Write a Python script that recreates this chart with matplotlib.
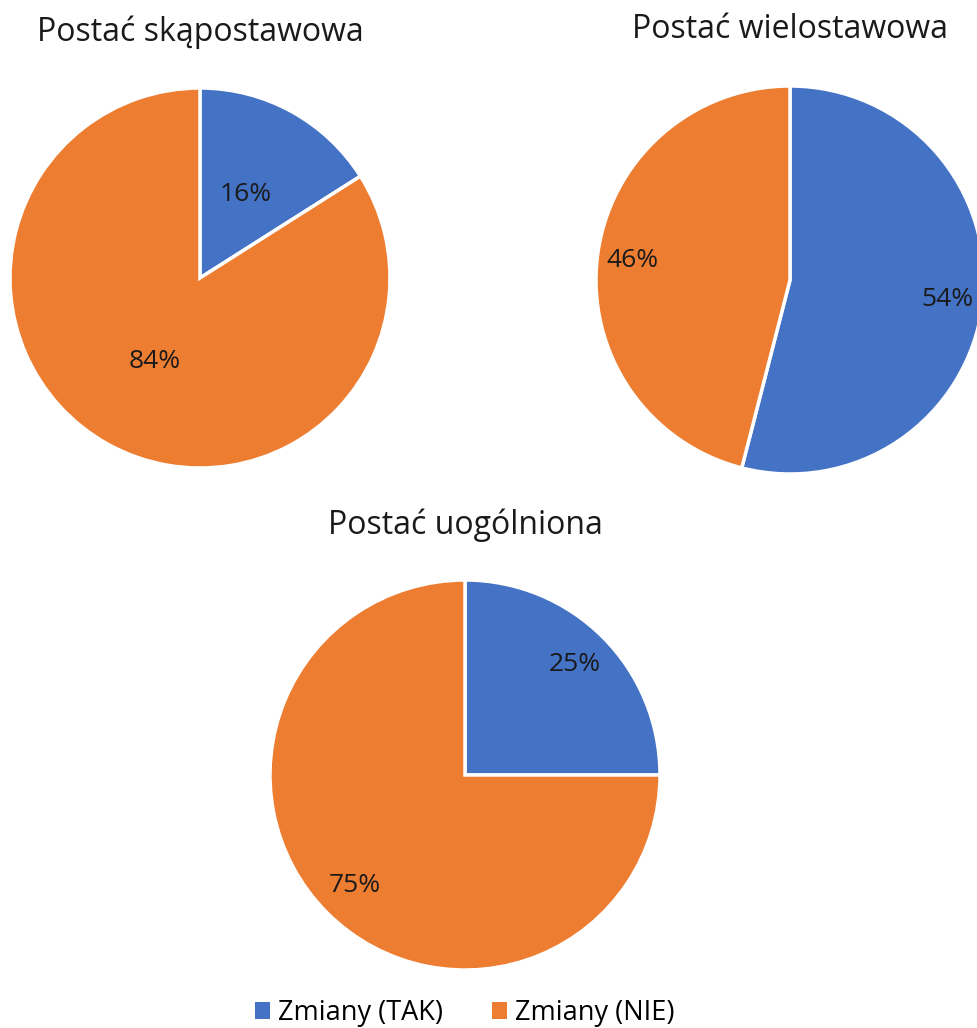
import matplotlib.pyplot as plt
from matplotlib.patches import Patch

plt.rcParams['font.family'] = ['Open Sans', 'DejaVu Sans']

categories = ['Zmiany (TAK)', 'Zmiany (NIE)']
titles = ['Postać skąpostawowa', 'Postać wielostawowa', 'Postać uogólniona']
shares = [
    [16, 84],
    [54, 46],
    [25, 75],
]
colors = ['#4472C4', '#ED7D31']

W, H = 977, 1028
fig = plt.figure(figsize=(W / 100, H / 100), dpi=100)

# pie centre (px), radius (px), label distance, title position (px)
layout = [
    ((200, 278), 190, 0.5, (200, 32)),
    ((790, 280), 194, 0.82, (790, 30)),
    ((465, 775), 195, 0.8, (465, 525)),
]


def px_axes(cx, cy, r):
    return fig.add_axes([(cx - r) / W, (H - cy - r) / H, 2 * r / W, 2 * r / H])


for vals, title, ((cx, cy), r, pd_, (tx, ty)) in zip(shares, titles, layout):
    ax = px_axes(cx, cy, r)
    ax.pie(vals, colors=colors, startangle=90, counterclock=False,
           radius=1, autopct='%d%%', pctdistance=pd_,
           wedgeprops=dict(edgecolor='white', linewidth=2.5),
           textprops=dict(fontsize=19, color='#1a1a1a'))
    ax.set_xlim(-1, 1)
    ax.set_ylim(-1, 1)
    ax.set_aspect('equal')
    ax.axis('off')
    fig.text(tx / W, 1 - ty / H, title, ha='center', va='center',
             fontsize=23, color='#1a1a1a')

handles = [Patch(facecolor=c, edgecolor='none') for c in colors]
fig.legend(handles, categories, loc='center', bbox_to_anchor=(465 / W, 1 - 1013 / H),
           ncol=2, frameon=False, fontsize=19.5, handlelength=0.55, handleheight=0.55,
           handletextpad=0.3, columnspacing=1.8)

fig.savefig('out.png', dpi=100)
